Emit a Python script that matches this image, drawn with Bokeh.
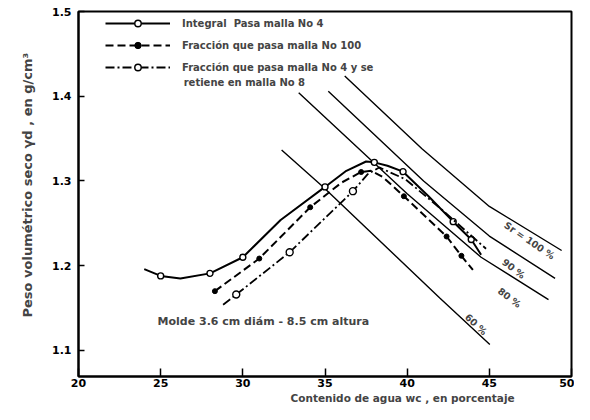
import numpy as np
from bokeh.plotting import figure
from bokeh.models import Range1d, FixedTicker, Label, Legend, LegendItem, Title
from bokeh.embed import file_html
from bokeh.resources import INLINE

# ---------------- data ----------------
x_ticks = [20, 25, 30, 35, 40, 45, 50]
y_ticks = [1.1, 1.2, 1.3, 1.4, 1.5]
y_tick_labels = {1.1: "1.1", 1.2: "1.2", 1.3: "1.3", 1.4: "1.4", 1.5: "1.5"}

# Integral, pasa malla No 4 (solid, open circles)
int_line_w = [24.0, 25.0, 26.2, 28.0, 30.0, 32.3, 35.0, 36.3, 37.5, 38.0, 38.8, 39.75, 41.3, 42.8, 43.9, 44.5]
int_line_g = [1.196, 1.188, 1.185, 1.191, 1.21, 1.254, 1.293, 1.312, 1.323, 1.322, 1.318, 1.311, 1.282, 1.252, 1.231, 1.213]
int_pts_w = [25.0, 28.0, 30.0, 35.0, 38.0, 39.75, 42.8, 43.9]
int_pts_g = [1.188, 1.191, 1.21, 1.293, 1.322, 1.311, 1.252, 1.231]

# Fraccion que pasa malla No 100 (dashed, filled circles)
f100_line_w = [28.3, 31.0, 34.1, 36.0, 37.2, 37.8, 38.5, 39.8, 42.4, 43.3, 44.0]
f100_line_g = [1.17, 1.2085, 1.269, 1.298, 1.3106, 1.312, 1.305, 1.282, 1.2345, 1.2117, 1.195]
f100_pts_w = [28.3, 31.0, 34.1, 37.2, 39.8, 42.4, 43.3]
f100_pts_g = [1.17, 1.2085, 1.269, 1.3106, 1.282, 1.2345, 1.2117]

# Fraccion que pasa malla No 4 y se retiene en malla No 8 (dash-dot, open circles)
f48_line_w = [28.8, 29.6, 32.85, 36.7, 37.6, 38.3, 39.9, 42.0, 44.8]
f48_line_g = [1.154, 1.166, 1.216, 1.288, 1.308, 1.316, 1.302, 1.268, 1.22]
f48_pts_w = [29.6, 32.85, 36.7]
f48_pts_g = [1.166, 1.216, 1.288]

# Saturation lines
sat_labels = ["Sr = 100 %", "90 %", "80 %", "60 %"]
sat100_w = [36.2, 40.9, 45.0, 49.4]
sat100_g = [1.424, 1.338, 1.27, 1.218]
sat90_w = [35.2, 41.0, 45.0, 49.0]
sat90_g = [1.406, 1.30, 1.235, 1.185]
sat80_w = [33.4, 40.0, 44.5, 48.6]
sat80_g = [1.404, 1.285, 1.21, 1.16]
sat60_w = [32.36, 34.89, 42.0, 45.03]
sat60_g = [1.3366, 1.293, 1.1616, 1.107]

FONT = "DejaVu Sans"

p = figure(width=574, height=404, output_backend="svg", toolbar_location=None,
           x_range=Range1d(20, 50), y_range=Range1d(1.0693, 1.5),
           min_border_left=78, min_border_right=3, min_border_top=11, min_border_bottom=28)
p.grid.visible = False
p.outline_line_color = "black"
p.outline_line_width = 2
p.background_fill_color = "white"

for ax in (p.xaxis[0], p.yaxis[0]):
    ax.axis_line_width = 2
    ax.axis_line_color = "black"
    ax.major_tick_line_width = 1.5
    ax.major_tick_line_color = "black"
    ax.minor_tick_line_color = None
    ax.major_label_text_font = FONT
    ax.major_label_text_font_style = "bold"
    ax.major_label_text_font_size = "11px"
    ax.major_label_text_color = "black"

p.xaxis.ticker = FixedTicker(ticks=x_ticks)
p.xaxis.major_tick_in = 8
p.xaxis.major_tick_out = 0
p.xaxis.major_label_standoff = 2
p.yaxis.ticker = FixedTicker(ticks=y_ticks)
p.yaxis.major_label_overrides = y_tick_labels
p.yaxis.major_tick_in = 6
p.yaxis.major_tick_out = 0
p.yaxis.major_label_standoff = 7

# saturation lines
for w, g in ((sat100_w, sat100_g), (sat90_w, sat90_g), (sat80_w, sat80_g), (sat60_w, sat60_g)):
    p.line(w, g, line_color="black", line_width=1.4)

# compaction curves
r1 = p.line(int_line_w, int_line_g, line_color="black", line_width=2)
m1 = p.scatter(int_pts_w, int_pts_g, marker="circle", size=6, fill_color="white", line_color="black", line_width=1.4)
r2 = p.line(f100_line_w, f100_line_g, line_color="black", line_width=2, line_dash="8 4")
m2 = p.scatter(f100_pts_w, f100_pts_g, marker="circle", size=5, fill_color="black", line_color="black")
r3 = p.line(f48_line_w, f48_line_g, line_color="black", line_width=1.8, line_dash="9 3 2 3")
m3 = p.scatter(f48_pts_w, f48_pts_g, marker="circle", size=7, fill_color="white", line_color="black", line_width=1.4)

legend = Legend(items=[
    LegendItem(label="Integral  Pasa malla No 4", renderers=[r1, m1]),
    LegendItem(label="Fracción que pasa malla No 100", renderers=[r2, m2]),
    LegendItem(label="Fracción que pasa malla No 4 y se", renderers=[r3, m3]),
], margin=0, padding=0, spacing=6, glyph_width=65, glyph_height=16,
    label_standoff=12, label_text_font=FONT, label_text_font_style="bold",
    label_text_font_size="10px", background_fill_alpha=0, border_line_alpha=0)
legend.location = (27, 301)
p.add_layout(legend)
p.add_layout(Label(x=26.4, y=1.4162, text="retiene en malla No 8", text_font=FONT,
                   text_font_style="bold", text_font_size="10px", text_align="left", text_baseline="middle"))

# saturation labels
for txt, (lw, lg), ang in zip(sat_labels, [(47.45, 1.2298), (46.48, 1.1967), (46.23, 1.1625), (44.2, 1.131)],
                              [-0.6, -0.65, -0.65, -0.75]):
    p.add_layout(Label(x=lw, y=lg, text=txt, angle=ang, text_font=FONT, text_font_style="bold",
                       text_font_size="9.5px", text_align="center", text_baseline="middle"))

p.add_layout(Label(x=24.81, y=1.134, text="Molde 3.6 cm diám - 8.5 cm altura", text_font=FONT,
                   text_font_style="bold", text_font_size="11px", text_align="left", text_baseline="middle"))

xt = Title(text="Contenido de agua wc , en porcentaje", align="left", offset=212, standoff=0,
           text_font=FONT, text_font_style="bold", text_font_size="10.5px")
p.add_layout(xt, "below")
yt = Title(text="Peso volumétrico seco γd , en g/cm³", align="left", offset=59, standoff=30,
           text_font=FONT, text_font_style="bold", text_font_size="13px")
p.add_layout(yt, "left")

open("out.html", "w").write(file_html(p, INLINE))
